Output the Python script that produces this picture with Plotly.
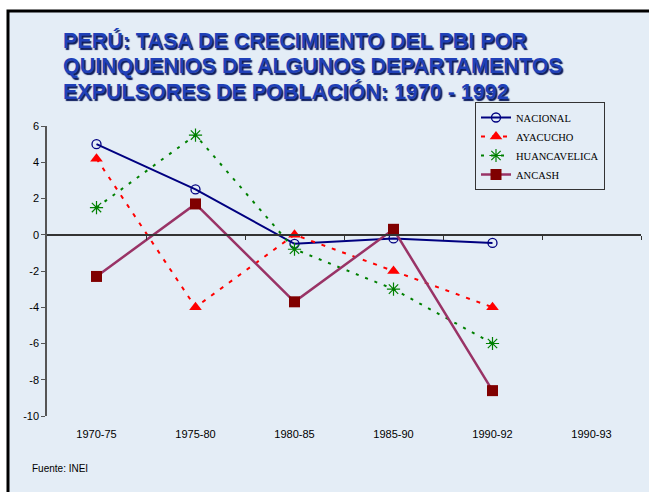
import plotly.graph_objects as go

categories = ["1970-75", "1975-80", "1980-85", "1985-90", "1990-92", "1990-93"]
nacional = [5.0, 2.5, -0.5, -0.2, -0.45]
ayacucho = [4.2, -4.0, 0.0, -2.0, -4.0]
huancavelica = [1.5, 5.5, -0.8, -3.0, -6.0]
ancash = [-2.3, 1.7, -3.7, 0.3, -8.6]
y_ticks = [6, 4, 2, 0, -2, -4, -6, -8, -10]
y_tick_text = ["6", "4", "2", "0", "-2", "-4", "-6", "-8", "-10"]
title_lines = ["PERÚ: TASA DE CRECIMIENTO DEL PBI POR",
               "QUINQUENIOS DE ALGUNOS DEPARTAMENTOS",
               "EXPULSORES DE POBLACIÓN: 1970 - 1992"]

W, H = 649, 492
L, R, T, B = 47, 8, 126, 76
pw, ph = W - L - R, H - T - B

def px_x(p):
    return (p - L) / pw

def px_y(p):
    return (H - B - p) / ph

xs = list(range(len(categories)))

fig = go.Figure()
fig.add_trace(go.Scatter(
    x=xs[:len(nacional)], y=nacional, name="NACIONAL", mode="lines+markers",
    line=dict(color="#000080", width=2),
    marker=dict(symbol="circle-open", size=9, color="#000080", line=dict(width=1.3))))
fig.add_trace(go.Scatter(
    x=xs[:len(ayacucho)], y=ayacucho, name="AYACUCHO", mode="lines+markers",
    line=dict(color="#FF0000", width=2, dash="4px,7px"),
    marker=dict(symbol="triangle-up", size=11, color="#FF0000")))
fig.add_trace(go.Scatter(
    x=xs[:len(huancavelica)], y=huancavelica, name="HUANCAVELICA", mode="lines+markers",
    line=dict(color="#008000", width=2, dash="3px,7px"),
    marker=dict(symbol="asterisk-open", size=11, color="#008000", line=dict(width=1.2, color="#008000"))))
fig.add_trace(go.Scatter(
    x=xs[:len(ancash)], y=ancash, name="ANCASH", mode="lines+markers",
    line=dict(color="#993366", width=2.5),
    marker=dict(symbol="square", size=11, color="#800000")))

# axis at y = 0 with ticks between categories
fig.add_trace(go.Scatter(x=[-0.5], y=[0], xaxis="x2", mode="markers",
                         marker=dict(opacity=0), showlegend=False, hoverinfo="skip"))

bg = "#E4EDF6"
fig.add_shape(type="rect", xref="paper", yref="paper",
              x0=px_x(8), x1=px_x(700), y0=px_y(560), y1=px_y(11),
              fillcolor=bg, line=dict(color="black", width=3), layer="below")

fig.update_layout(
    width=W, height=H,
    margin=dict(l=L, r=R, t=T, b=B),
    paper_bgcolor="white",
    plot_bgcolor="rgba(0,0,0,0)",
    font=dict(family="Liberation Sans, Arial", size=11, color="black"),
    showlegend=True,
    legend=dict(
        x=px_x(475), y=px_y(102), xanchor="left", yanchor="top",
        bgcolor="rgba(0,0,0,0)", bordercolor="#333333", borderwidth=1,
        font=dict(family="Liberation Serif, Times New Roman", size=10.5, color="black"),
        tracegroupgap=0, itemwidth=30),
    xaxis=dict(range=[-0.5, 5.5], tickvals=xs, ticktext=categories,
               showgrid=False, zeroline=False, showline=False,
               ticks="outside", ticklen=8, tickcolor="rgba(0,0,0,0)",
               tickfont=dict(size=11)),
    xaxis2=dict(range=[-0.5, 5.5], overlaying="x", anchor="free",
                position=10 / 16, side="bottom",
                tickvals=[0.5, 1.5, 2.5, 3.5, 4.5, 5.5],
                showticklabels=False, ticks="outside", ticklen=4,
                tickcolor="#333333", showline=True, linecolor="#333333",
                linewidth=1.5, showgrid=False, zeroline=False),
    yaxis=dict(range=[-10, 6], tickvals=y_ticks, ticktext=y_tick_text, showgrid=False,
               zeroline=False, showline=True, linecolor="#555555", linewidth=1.5,
               ticks="outside", ticklen=4, tickcolor="#555555",
               tickfont=dict(size=11)),
)

for i, (line, yc) in enumerate(zip(title_lines, [41, 66, 91])):
    fig.add_annotation(
        xref="paper", yref="paper", x=px_x(61), y=px_y(yc),
        xanchor="left", yanchor="middle", align="left", showarrow=False,
        text=line,
        font=dict(family="Liberation Sans, Arial", size=21.5, color="#2040B8", weight="bold",
                  shadow="1.5px 1.5px 1px #0B1A5C"))

fig.add_annotation(
    xref="paper", yref="paper", x=px_x(30), y=px_y(468),
    xanchor="left", yanchor="middle", showarrow=False,
    text="Fuente: INEI", font=dict(size=10, color="black"))

fig.write_html("out.html", post_script="document.body.style.margin='0px';",
               config={"displayModeBar": False})
